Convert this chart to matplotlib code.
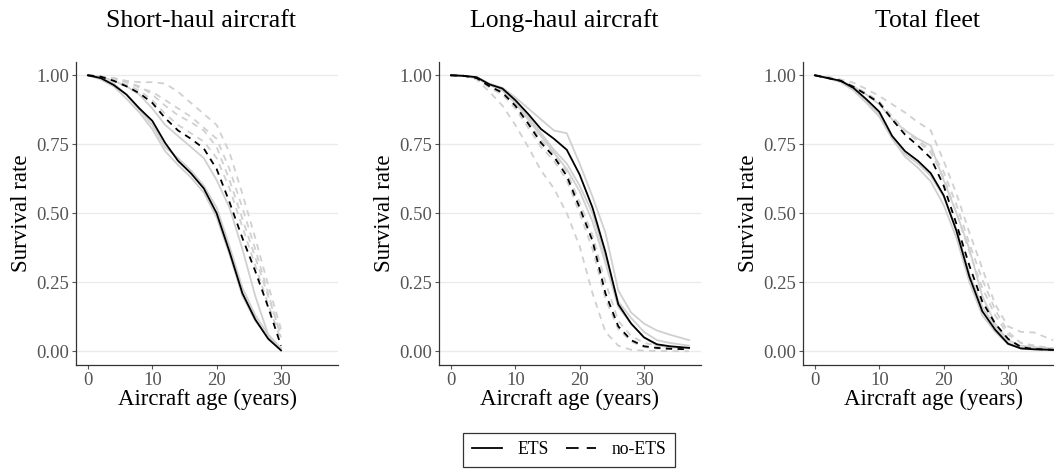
import numpy as np
import matplotlib
matplotlib.use("Agg")
from matplotlib import pyplot as plt
from matplotlib.lines import Line2D

# ---- data -------------------------------------------------------------
titles = ["Short-haul aircraft", "Long-haul aircraft", "Total fleet"]

ages_short = [0, 2, 4, 6, 8, 10, 12, 14, 16, 18, 20, 22, 24, 26, 28, 30]
short_ets = [1.0, 0.99, 0.965, 0.93, 0.88, 0.835, 0.755, 0.69, 0.645, 0.59, 0.50,
             0.36, 0.21, 0.115, 0.045, 0.003]
short_noets = [1.0, 0.995, 0.98, 0.96, 0.935, 0.90, 0.845, 0.80, 0.77, 0.735, 0.66,
               0.54, 0.41, 0.29, 0.16, 0.02]
short_gray_solid = [
    [1.0, 0.985, 0.96, 0.915, 0.865, 0.805, 0.725, 0.675, 0.63, 0.575, 0.485, 0.35, 0.20, 0.11, 0.05, 0.01],
    [1.0, 0.99, 0.97, 0.93, 0.875, 0.82, 0.74, 0.70, 0.655, 0.60, 0.52, 0.38, 0.23, 0.13, 0.06, 0.01],
    [1.0, 0.995, 0.98, 0.96, 0.93, 0.88, 0.82, 0.78, 0.74, 0.70, 0.62, 0.52, 0.37, 0.20, 0.06, 0.01],
]
short_gray_dashed = [
    [1.0, 0.995, 0.99, 0.975, 0.96, 0.93, 0.89, 0.855, 0.83, 0.80, 0.74, 0.62, 0.48, 0.34, 0.20, 0.06],
    [1.0, 0.995, 0.99, 0.98, 0.975, 0.975, 0.97, 0.94, 0.90, 0.86, 0.82, 0.72, 0.57, 0.41, 0.24, 0.08],
    [1.0, 0.995, 0.985, 0.965, 0.945, 0.91, 0.86, 0.82, 0.79, 0.76, 0.70, 0.59, 0.45, 0.31, 0.17, 0.04],
    [1.0, 0.995, 0.99, 0.975, 0.955, 0.94, 0.91, 0.88, 0.85, 0.81, 0.77, 0.66, 0.52, 0.37, 0.21, 0.05],
]

ages_long = [0, 2, 4, 6, 8, 10, 12, 14, 16, 18, 20, 22, 24, 26, 28, 30, 32, 34, 37]
long_ets = [1.0, 0.998, 0.993, 0.967, 0.952, 0.91, 0.86, 0.805, 0.77, 0.73, 0.64,
            0.52, 0.36, 0.17, 0.10, 0.05, 0.025, 0.018, 0.012]
long_noets = [1.0, 0.998, 0.99, 0.96, 0.937, 0.89, 0.825, 0.755, 0.705, 0.635, 0.52,
              0.40, 0.21, 0.09, 0.04, 0.018, 0.012, 0.009, 0.007]
long_gray_solid = [
    [1.0, 0.998, 0.993, 0.97, 0.955, 0.92, 0.88, 0.84, 0.80, 0.79, 0.68, 0.56, 0.43, 0.22, 0.14, 0.10, 0.075, 0.06, 0.04],
    [1.0, 0.998, 0.99, 0.965, 0.945, 0.90, 0.85, 0.79, 0.73, 0.68, 0.60, 0.50, 0.34, 0.18, 0.12, 0.07, 0.04, 0.03, 0.02],
    [1.0, 0.998, 0.99, 0.965, 0.945, 0.90, 0.84, 0.78, 0.72, 0.66, 0.58, 0.47, 0.32, 0.16, 0.10, 0.05, 0.02, 0.015, 0.01],
]
long_gray_dashed = [
    [1.0, 0.998, 0.985, 0.94, 0.89, 0.82, 0.74, 0.655, 0.59, 0.50, 0.38, 0.21, 0.07, 0.02, 0.005, 0.002, 0.001, 0.0, 0.0],
    [1.0, 0.998, 0.99, 0.955, 0.93, 0.88, 0.81, 0.74, 0.69, 0.62, 0.50, 0.37, 0.19, 0.08, 0.035, 0.015, 0.01, 0.008, 0.006],
    [1.0, 0.998, 0.99, 0.96, 0.94, 0.895, 0.83, 0.765, 0.715, 0.65, 0.54, 0.42, 0.25, 0.11, 0.055, 0.03, 0.02, 0.015, 0.01],
]

ages_total = ages_long
total_ets = [1.0, 0.99, 0.98, 0.954, 0.913, 0.868, 0.78, 0.725, 0.69, 0.645, 0.565,
             0.435, 0.27, 0.145, 0.078, 0.027, 0.01, 0.007, 0.005]
total_noets = [1.0, 0.99, 0.98, 0.958, 0.93, 0.90, 0.84, 0.785, 0.745, 0.70, 0.60,
               0.46, 0.31, 0.18, 0.10, 0.045, 0.015, 0.008, 0.005]
total_gray_solid = [
    [1.0, 0.99, 0.98, 0.96, 0.93, 0.895, 0.84, 0.80, 0.77, 0.745, 0.62, 0.50, 0.37, 0.20, 0.10, 0.04, 0.02, 0.015, 0.01],
    [1.0, 0.99, 0.975, 0.945, 0.90, 0.85, 0.77, 0.705, 0.665, 0.615, 0.53, 0.41, 0.25, 0.13, 0.07, 0.025, 0.01, 0.006, 0.004],
    [1.0, 0.99, 0.978, 0.95, 0.905, 0.86, 0.775, 0.715, 0.68, 0.635, 0.56, 0.44, 0.28, 0.16, 0.09, 0.03, 0.012, 0.008, 0.005],
]
total_gray_dashed = [
    [1.0, 0.995, 0.985, 0.973, 0.95, 0.925, 0.895, 0.865, 0.83, 0.80, 0.69, 0.57, 0.43, 0.30, 0.17, 0.09, 0.07, 0.068, 0.04],
    [1.0, 0.99, 0.98, 0.96, 0.935, 0.905, 0.85, 0.80, 0.76, 0.72, 0.63, 0.50, 0.36, 0.23, 0.13, 0.06, 0.03, 0.02, 0.01],
    [1.0, 0.99, 0.98, 0.96, 0.935, 0.90, 0.85, 0.80, 0.765, 0.73, 0.65, 0.53, 0.39, 0.26, 0.15, 0.07, 0.03, 0.02, 0.01],
]

panels = [
    (ages_short, short_ets, short_noets, short_gray_solid, short_gray_dashed),
    (ages_long, long_ets, long_noets, long_gray_solid, long_gray_dashed),
    (ages_total, total_ets, total_noets, total_gray_solid, total_gray_dashed),
]

# ---- plot -------------------------------------------------------------
plt.rcParams["font.family"] = ["Liberation Serif", "DejaVu Serif"]

W, H = 1054, 471
fig = plt.figure(figsize=(W / 100, H / 100), dpi=100)

lefts = [76, 439, 803]
width_px = 262
top_px, bottom_px = 61.5, 365

gray = "#d0d0d0"
dash = (3.5, 3.0)

for i, (ages, ets, noets, gsolid, gdashed) in enumerate(panels):
    ax = fig.add_axes([lefts[i] / W, 1 - bottom_px / H, width_px / W, (bottom_px - top_px) / H])
    for s in gsolid:
        ax.plot(ages, s, color=gray, lw=1.3)
    for s in gdashed:
        ax.plot(ages, s, color=gray, lw=1.3, dashes=dash)
    ax.plot(ages, ets, color="black", lw=1.3)
    ax.plot(ages, noets, color="black", lw=1.3, dashes=dash)

    ax.set_xlim(-1.85, 38.85)
    ax.set_ylim(-0.05, 1.05)
    ax.set_xticks([0, 10, 20, 30])
    ax.set_yticks([0, 0.25, 0.5, 0.75, 1.0])
    ax.set_yticklabels(["0.00", "0.25", "0.50", "0.75", "1.00"])
    ax.grid(axis="y", color="#ebebeb", lw=1.0)
    ax.set_axisbelow(True)
    for side in ["top", "right"]:
        ax.spines[side].set_visible(False)
    for side in ["left", "bottom"]:
        ax.spines[side].set_linewidth(0.9)
        ax.spines[side].set_color("#333333")
    ax.tick_params(length=3, width=0.8, color="#555555", labelcolor="#555555",
                   labelsize=13.5, pad=2)
    ax.set_xlabel("Aircraft age (years)", fontsize=16.5, labelpad=0)
    ax.set_ylabel("Survival rate", fontsize=16.5, labelpad=3)
    ax.set_title(titles[i], fontsize=18.5, pad=25, x=0.477)

handles = [Line2D([], [], color="black", lw=1.3),
           Line2D([], [], color="black", lw=1.3, dashes=(7, 4.5))]
leg = fig.legend(handles, ["ETS", "no-ETS"], loc="center", ncol=2,
                 bbox_to_anchor=(569 / W, 1 - 450 / H), fontsize=12.7,
                 frameon=True, fancybox=False, edgecolor="black",
                 handlelength=1.7, handletextpad=0.85, columnspacing=1.0,
                 borderpad=0.5, borderaxespad=0)
leg.get_frame().set_linewidth(0.9)

fig.savefig("out.png", dpi=100)
